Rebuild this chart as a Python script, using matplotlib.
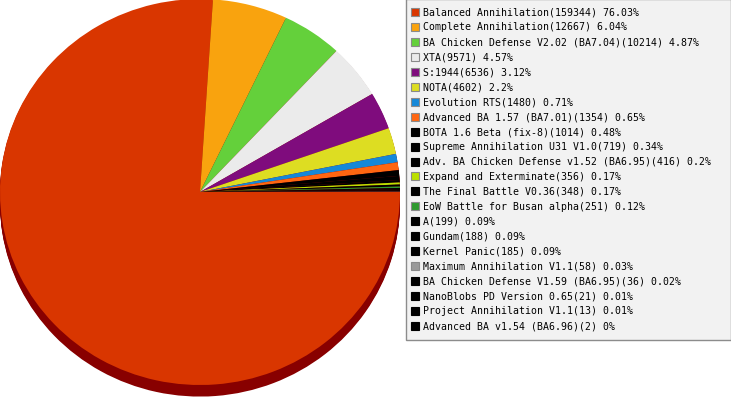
import matplotlib.pyplot as plt
from matplotlib.patches import Rectangle

# data
mods = ['Balanced Annihilation', 'Complete Annihilation', 'BA Chicken Defense V2.02 (BA7.04)',
        'XTA', 'S:1944', 'NOTA', 'Evolution RTS', 'Advanced BA 1.57 (BA7.01)',
        'BOTA 1.6 Beta (fix-8)', 'Supreme Annihilation U31 V1.0',
        'Adv. BA Chicken Defense v1.52 (BA6.95)', 'Expand and Exterminate',
        'The Final Battle V0.36', 'EoW Battle for Busan alpha', 'A', 'Gundam',
        'Kernel Panic', 'Maximum Annihilation V1.1', 'BA Chicken Defense V1.59 (BA6.95)',
        'NanoBlobs PD Version 0.65', 'Project Annihilation V1.1', 'Advanced BA v1.54 (BA6.96)']
games = [159344, 12667, 10214, 9571, 6536, 4602, 1480, 1354, 1014, 719, 416,
         356, 348, 251, 199, 188, 185, 58, 36, 21, 13, 2]
colors = ['#d93600', '#f9a30e', '#64d03b', '#ebebeb', '#7f0c7d', '#dddd22',
          '#1588d8', '#ff6611', '#000000', '#000000', '#000000', '#bbe000',
          '#000000', '#2e9a2e', '#000000', '#000000', '#000000', '#9a9a9a',
          '#000000', '#000000', '#000000', '#000000']
shade = '#880000'

fig = plt.figure(figsize=(7.31, 4.0), dpi=100)

# pie axes: x 1 unit = 1 px, y slightly squashed
sy = 0.965
ax = fig.add_axes([0, 0, 400 / 731, 1])

depth = 12 / sy
for d in range(int(depth), 0, -1):
    ax.pie(games, colors=[shade] * len(games), startangle=0, counterclock=False,
           radius=200, center=(0, -d), frame=True,
           wedgeprops=dict(linewidth=0))
ax.pie(games, colors=colors, startangle=0, counterclock=False,
       radius=200, center=(0, 0), frame=True, wedgeprops=dict(linewidth=0))
ax.set_xlim(-200, 200)
ax.set_ylim(-208 / sy, 192 / sy)
ax.set_aspect('auto')
ax.axis('off')

# legend in pixel coordinates
lg = fig.add_axes([0, 0, 1, 1], facecolor='none')
lg.set_xlim(0, 731)
lg.set_ylim(400, 0)
lg.axis('off')
lg.add_patch(Rectangle((405.5, -1.5), 325, 341, facecolor='#f2f2f2',
                       edgecolor='#8c8c8c', linewidth=1))
total = sum(games)
for i, (m, g, c) in enumerate(zip(mods, games, colors)):
    y = 12 + i * 14.95
    ec = '#000000' if c == '#000000' else '#8a8a8a'
    lg.add_patch(Rectangle((410.5, y - 4), 8, 8, facecolor=c, edgecolor=ec, linewidth=0.8))
    pct = round(g / total * 100, 2)
    label = f"{m}({g}) {pct:g}%"
    lg.text(423, y + 0.5, label, fontsize=7.1, family='DejaVu Sans Mono',
            va='center', ha='left', color='#000000')

fig.savefig('out.png', dpi=100)
